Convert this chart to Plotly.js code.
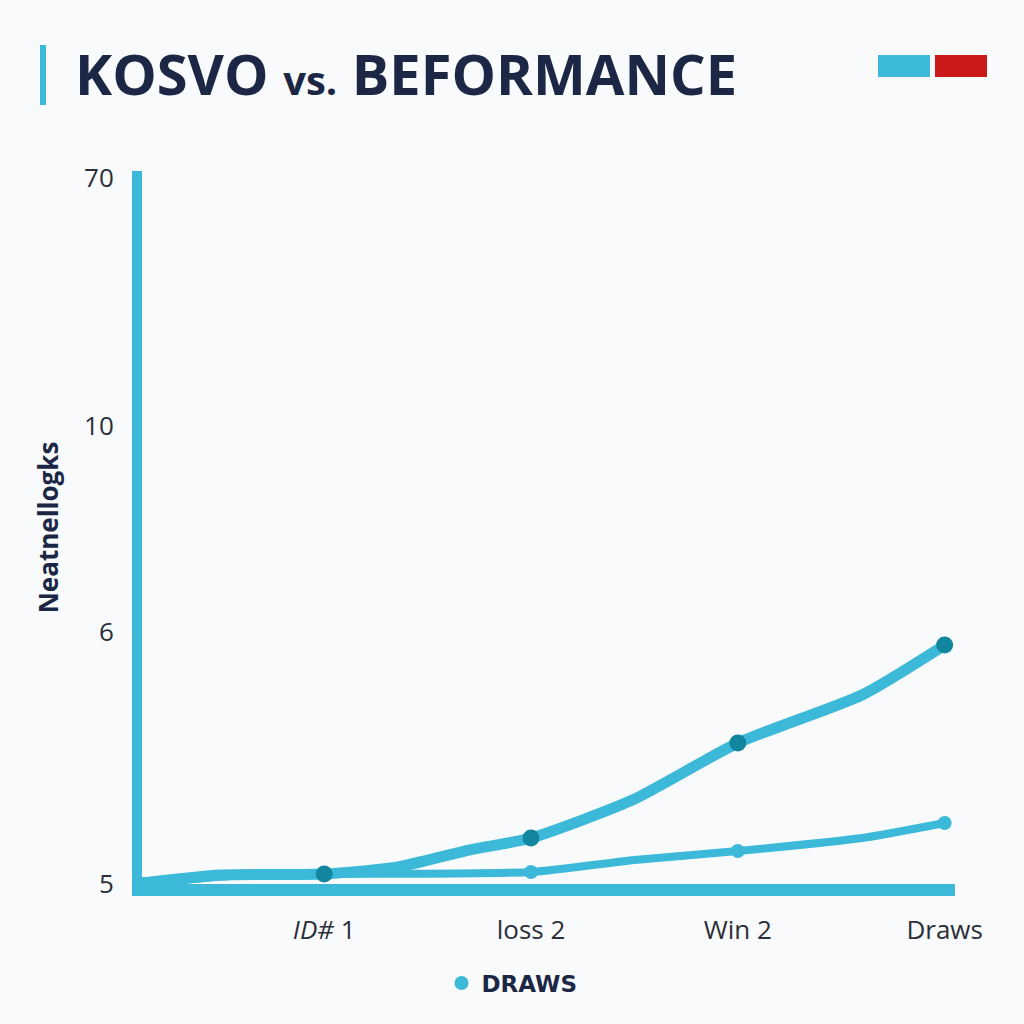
<!DOCTYPE html>
<html>
<head>
<meta charset="utf-8">
<script src="https://cdn.plot.ly/plotly-3.0.1.min.js"></script>
<style>html,body{margin:0;padding:0;background:#f9fafb;}#chart{width:1024px;height:1024px;}</style>
</head>
<body>
<div id="chart"></div>
<script>
// Category tick labels and their x positions
const categories = ["<i>ID#</i> 1", "loss 2", "Win 2", "Draws"];
const categoryX = [1, 2, 3, 4];

// Y tick labels (axis is non-uniform in the original)
const yTickLabels = ["5", "6", "10", "70"];
const yTickVals = [5.012, 6, 6.81, 7.78];

// Upper series (line path)
const upperX = [0.12, 0.5, 1.0, 1.35, 1.7, 2.0, 2.49, 3.0, 3.6, 4.0];
const upperY = [5.016, 5.047, 5.051, 5.078, 5.145, 5.192, 5.341, 5.565, 5.753, 5.949];
// Upper series highlighted points
const upperMarkX = [1, 2, 3, 4];
const upperMarkY = [5.051, 5.192, 5.565, 5.949];

// Lower series (line path)
const lowerX = [0.12, 0.55, 1.0, 2.0, 2.5, 3.0, 3.6, 4.0];
const lowerY = [5.012, 5.043, 5.051, 5.059, 5.106, 5.141, 5.192, 5.251];
// Lower series highlighted points
const lowerMarkX = [0.12, 2, 3, 4];
const lowerMarkY = [5.012, 5.059, 5.141, 5.251];

const cyan = "#3cb9d9";
const teal = "#13869f";
const navy = "#1b2744";

// plot-area geometry (pixels) used only to place decorative shapes
const L = 142, R = 69, T = 171, B = 140;
const PW = 1024 - L - R, PH = 1024 - T - B;
const px = v => (v - L) / PW;
const py = v => (1024 - B - v) / PH;

const traces = [
  {x: lowerX, y: lowerY, mode: "lines", line: {color: cyan, width: 8, shape: "spline", smoothing: 0.6}, showlegend: false, hoverinfo: "skip"},
  {x: upperX, y: upperY, mode: "lines", line: {color: cyan, width: 11, shape: "spline", smoothing: 0.6}, showlegend: false, hoverinfo: "skip"},
  {x: lowerMarkX, y: lowerMarkY, mode: "markers", name: "DRAWS", marker: {color: cyan, size: 14}, showlegend: true, cliponaxis: false},
  {x: upperMarkX, y: upperMarkY, mode: "markers", marker: {color: teal, size: 17}, showlegend: false, cliponaxis: false}
];

const layout = {
  width: 1024, height: 1024,
  paper_bgcolor: "#f9fafb", plot_bgcolor: "#f9fafb",
  margin: {l: L, r: R, t: T, b: B},
  font: {family: "Open Sans, sans-serif", color: "#2a2f3a"},
  title: {
    text: "KOSVO <span style='font-size:40px'>vs.</span> BEFORMANCE",
    font: {family: "Open Sans, sans-serif", size: 56, color: navy, weight: 700},
    xref: "container", yref: "container", x: 75 / 1024, xanchor: "left", y: 1 - 75 / 1024, yanchor: "middle"
  },
  xaxis: {
    range: [0.119, 4.05], tickvals: categoryX, ticktext: categories,
    showgrid: false, zeroline: false, showline: true, linecolor: cyan, linewidth: 12,
    ticks: "", ticklabelstandoff: 12, tickfont: {size: 26, color: "#2a2f3a"}
  },
  yaxis: {
    range: [5.0118, 7.808], tickvals: yTickVals, ticktext: yTickLabels,
    showgrid: false, zeroline: false, showline: true, linecolor: cyan, linewidth: 10,
    ticks: "", ticklabelstandoff: 13, tickfont: {size: 26, color: "#2a2f3a"},
    title: {text: "Neatnellogks", font: {size: 26, color: navy, weight: 700}, standoff: 22}
  },
  legend: {
    orientation: "h", x: 0.5, xanchor: "center", xref: "container",
    y: 1 - 983 / 1024, yanchor: "middle", yref: "container",
    font: {family: "DejaVu Sans, sans-serif", size: 23, color: navy, weight: 700},
    bgcolor: "rgba(0,0,0,0)", itemsizing: "trace"
  },
  shapes: [
    {type: "rect", xref: "paper", yref: "paper", x0: px(40), x1: px(46), y0: py(105), y1: py(45), fillcolor: cyan, line: {width: 0}},
    {type: "rect", xref: "paper", yref: "paper", x0: px(878), x1: px(930), y0: py(77), y1: py(55), fillcolor: cyan, line: {width: 0}},
    {type: "rect", xref: "paper", yref: "paper", x0: px(935), x1: px(987), y0: py(77), y1: py(55), fillcolor: "#cc1a1a", line: {width: 0}}
  ]
};

Plotly.newPlot("chart", traces, layout, {displayModeBar: false, staticPlot: true});
</script>
</body>
</html>
